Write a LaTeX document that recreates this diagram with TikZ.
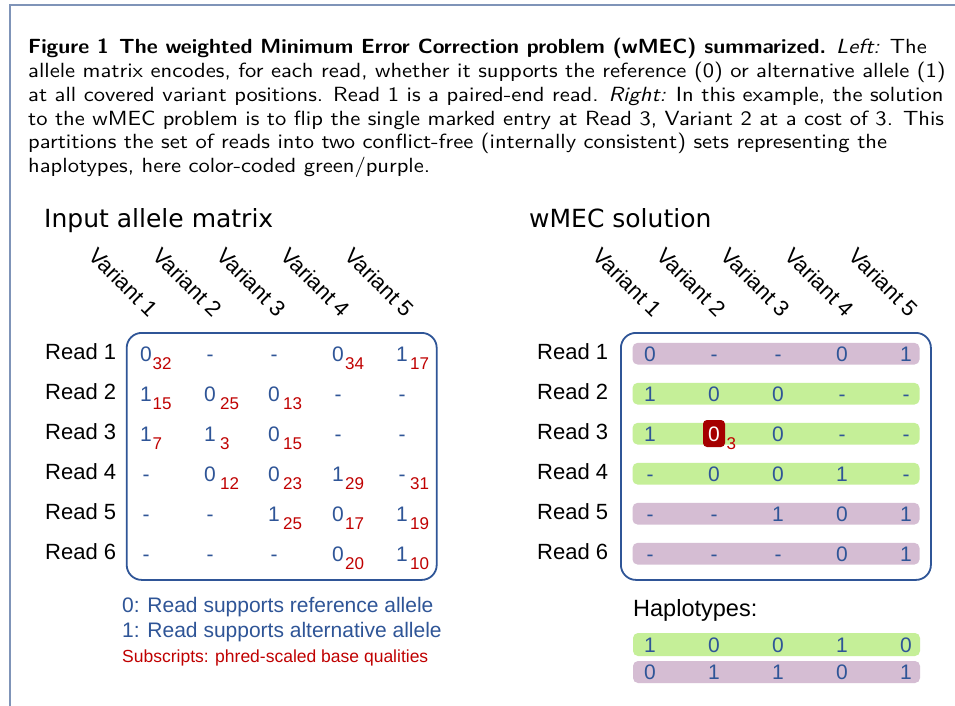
\documentclass[tikz,border=0pt]{standalone}
\usepackage{fontspec}
\setmainfont{Liberation Sans}
\newfontfamily\dejavu{DejaVu Sans}
\newfontfamily\capfont{lmsans10}[Extension=.otf, UprightFont=*-regular, BoldFont=*-bold, ItalicFont=*-oblique, UprightFeatures={FakeStretch=1.10}, ItalicFeatures={FakeStretch=1.10}, BoldFeatures={FakeStretch=1.043}]
\definecolor{cblue}{HTML}{2F5597}
\definecolor{cred}{HTML}{C00000}
\definecolor{cpurple}{HTML}{D5BDD3}
\definecolor{cgreen}{HTML}{C5EF98}
\definecolor{cdark}{HTML}{A50000}
\definecolor{cframe}{HTML}{7F94B8}
\tikzset{
  capt/.style={font=\capfont\fontsize{20.5}{24}\selectfont, anchor=base west, inner sep=0pt},
  heading/.style={font=\dejavu\fontsize{25}{25}\selectfont, anchor=base west, inner sep=0pt},
  cell/.style={text=cblue, font=\fontsize{21}{21}\selectfont, inner sep=0pt, text height=15pt, text depth=0pt, anchor=center},
  subq/.style={text=cred, font=\fontsize{17}{17}\selectfont, inner sep=0pt, anchor=west},
  readlbl/.style={font=\fontsize{22}{22}\selectfont, inner sep=0pt, anchor=base west},
  varlbl/.style={font=\fontsize{22}{22}\selectfont, inner sep=0pt, rotate=-45, anchor=east},
  matbox/.style={draw=cblue, line width=1.8pt, rounded corners=15pt, minimum width=310pt, minimum height=247pt, inner sep=0pt},
  rowbar/.style={rounded corners=5pt, minimum width=287pt, minimum height=21.6pt, inner sep=0pt},
  legblue/.style={text=cblue, font=\fontsize{21}{21}\selectfont, anchor=base west, inner sep=0pt},
  legred/.style={text=cred, font=\fontsize{17.5}{17.5}\selectfont, anchor=base west, inner sep=0pt},
}
\begin{document}
\begin{tikzpicture}[x=1pt, y=-1pt]
\useasboundingbox (0,0) rectangle (955,706);
\fill[white] (0,0) rectangle (955,706);
% frame
\coordinate (ftl) at (10,5);
\coordinate (ftr) at (955,5);
\coordinate (fbl) at (10,706);
\draw[cframe, line width=1.5pt] (ftr) -- (ftl) -- (fbl);
% caption
\node[capt] (cap1) at (28,54) {\textbf{Figure 1\enspace The weighted Minimum Error Correction problem (wMEC) summarized.} \textit{Left:} The};
\node[capt] (cap2) at (28,77.7) {allele matrix encodes, for each read, whether it supports the reference (0) or alternative allele (1)};
\node[capt] (cap3) at (28,101.4) {at all covered variant positions. Read 1 is a paired-end read. \textit{Right:} In this example, the solution};
\node[capt] (cap4) at (28,125.1) {to the wMEC problem is to flip the single marked entry at Read 3, Variant 2 at a cost of 3. This};
\node[capt] (cap5) at (28,148.8) {partitions the set of reads into two conflict-free (internally consistent) sets representing the};
\node[capt] (cap6) at (28,172.5) {haplotypes, here color-coded green/purple.};
% headings
\node[heading] (h1) at (44,227.5) {Input allele matrix};
\node[heading] (h2) at (529,227.5) {wMEC solution};
% boxes
\node[matbox] (LM) at (281.7,456.4) {};
\node[matbox] (RM) at (775.9,456.4) {};
% variant labels
\foreach \c in {1,...,5} {
  \node[varlbl] (LV\c) at ({82+64*\c+8},313) {Variant \c};
  \node[varlbl] (RV\c) at ({586+64*\c+8},313) {Variant \c};
}
% read labels
\foreach \r in {1,...,6} {
  \node[readlbl] (LR\r) at (45,{319+40*\r}) {Read \r};
  \node[readlbl] (RR\r) at (537,{319+40*\r}) {Read \r};
}
% left matrix entries
\foreach \r/\c/\v in {1/1/0,1/2/-,1/3/-,1/4/0,1/5/1,
                     2/1/1,2/2/0,2/3/0,2/4/-,2/5/-,
                     3/1/1,3/2/1,3/3/0,3/4/-,3/5/-,
                     4/1/-,4/2/0,4/3/0,4/4/1,4/5/-,
                     5/1/-,5/2/-,5/3/1,5/4/0,5/5/1,
                     6/1/-,6/2/-,6/3/-,6/4/0,6/5/1} {
  \node[cell] (L\r\c) at ({82+64*\c},{314+40*\r}) {\v};
}
\foreach \r/\c/\s in {1/1/32,1/4/34,1/5/17,
                     2/1/15,2/2/25,2/3/13,
                     3/1/7,3/2/3,3/3/15,
                     4/2/12,4/3/23,4/4/29,4/5/31,
                     5/3/25,5/4/17,5/5/19,
                     6/4/20,6/5/10} {
  \pgfmathsetmacro{\dx}{{6.5,10,9,7,8}[\c-1]}
  \node[subq] (LS\r\c) at ([xshift=\dx pt, yshift=-10pt]L\r\c.center) {\s};
}
% right matrix bars
\foreach \r/\col in {1/cpurple,2/cgreen,3/cgreen,4/cgreen,5/cpurple,6/cpurple} {
  \node[rowbar, fill=\col] (B\r) at (776,{313.7+40*\r}) {};
}
\node[fill=cdark, rounded corners=4pt, minimum width=22pt, minimum height=27pt, inner sep=0pt] (flip) at (714,433.5) {};
\foreach \r/\c/\v in {1/1/0,1/2/-,1/3/-,1/4/0,1/5/1,
                     2/1/1,2/2/0,2/3/0,2/4/-,2/5/-,
                     3/1/1,3/3/0,3/4/-,3/5/-,
                     4/1/-,4/2/0,4/3/0,4/4/1,4/5/-,
                     5/1/-,5/2/-,5/3/1,5/4/0,5/5/1,
                     6/1/-,6/2/-,6/3/-,6/4/0,6/5/1} {
  \node[cell] (R\r\c) at ({586+64*\c},{313.7+40*\r}) {\v};
}
\node[cell, text=white] (R32) at (714,433.7) {0};
\node[subq] (RS32) at (726.5,444) {3};
% legend
\node[legblue] (leg0) at (122,612.5) {0: Read supports reference allele};
\node[legblue] (leg1) at (122,637.5) {1: Read supports alternative allele};
\node[legred] (leg2) at (122,662) {Subscripts: phred-scaled base qualities};
% haplotypes
\node[readlbl, font=\fontsize{23.5}{23.5}\selectfont] (haplbl) at (633,616.7) {Haplotypes:};
\node[rowbar, fill=cgreen, minimum height=23pt] (HA) at (776.5,644.5) {};
\node[rowbar, fill=cpurple, minimum height=22pt] (HB) at (776.5,672) {};
\foreach \c/\a/\b in {1/1/0,2/0/1,3/0/1,4/1/0,5/0/1} {
  \node[cell] (HA\c) at ({586+64*\c},644.5) {\a};
  \node[cell] (HB\c) at ({586+64*\c},672) {\b};
}
\end{tikzpicture}
\end{document}
